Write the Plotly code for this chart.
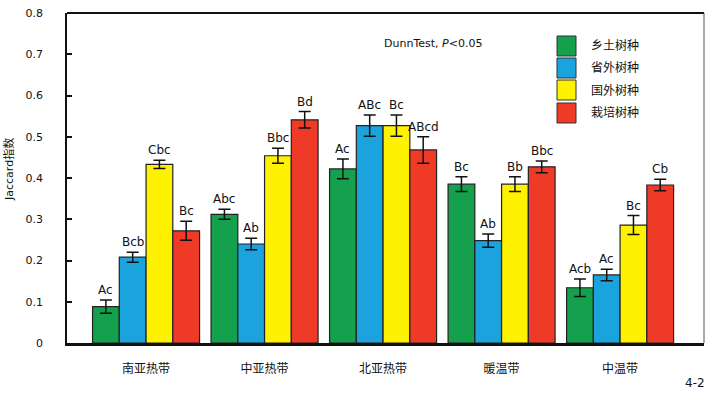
import plotly.graph_objects as go

categories = ["南亚热带", "中亚热带", "北亚热带", "暖温带", "中温带"]
series_names = ["乡土树种", "省外树种", "国外树种", "栽培树种"]
colors = ["#14a04c", "#1aa3dc", "#fff200", "#ee3a26"]

native = [0.088, 0.312, 0.422, 0.385, 0.134]
other_prov = [0.208, 0.240, 0.527, 0.248, 0.165]
foreign = [0.433, 0.454, 0.527, 0.385, 0.286]
cultivated = [0.272, 0.541, 0.468, 0.427, 0.383]

native_err = [0.016, 0.012, 0.024, 0.018, 0.021]
other_prov_err = [0.012, 0.014, 0.026, 0.016, 0.014]
foreign_err = [0.010, 0.018, 0.026, 0.018, 0.023]
cultivated_err = [0.023, 0.020, 0.032, 0.014, 0.014]

native_lbl = ["Ac", "Abc", "Ac", "Bc", "Acb"]
other_prov_lbl = ["Bcb", "Ab", "ABc", "Ab", "Ac"]
foreign_lbl = ["Cbc", "Bbc", "Bc", "Bb", "Bc"]
cultivated_lbl = ["Bc", "Bd", "ABcd", "Bbc", "Cb"]

y_ticks = [0, 0.1, 0.2, 0.3, 0.4, 0.5, 0.6, 0.7, 0.8]
y_tick_text = ["0", "0.1", "0.2", "0.3", "0.4", "0.5", "0.6", "0.7", "0.8"]

values = [native, other_prov, foreign, cultivated]
errors = [native_err, other_prov_err, foreign_err, cultivated_err]
labels = [native_lbl, other_prov_lbl, foreign_lbl, cultivated_lbl]

FONT = "DejaVu Sans, Noto Sans CJK SC"
bargap = 0.097
nser = len(series_names)
bw = (1 - bargap) / nser
xs = list(range(len(categories)))

fig = go.Figure()
for s in range(nser):
    fig.add_trace(go.Bar(
        x=xs, y=values[s], name=series_names[s],
        marker=dict(color=colors[s], line=dict(color="#222222", width=1.2)),
        error_y=dict(type="data", array=errors[s], color="#111111", thickness=1.5, width=6),
        showlegend=False, hoverinfo="skip",
    ))

annotations = []
for s in range(nser):
    off = (s - (nser - 1) / 2) * bw
    for i in xs:
        annotations.append(dict(
            x=i + off, y=values[s][i] + errors[s][i], xref="x", yref="y",
            text=labels[s][i], showarrow=False, yanchor="bottom", yshift=1,
            font=dict(family=FONT, size=12, color="#111111"),
        ))

# legend drawn manually
shapes = []
leg_x0, leg_x1 = 557, 576
leg_y = [46, 68, 90, 113]
W, H = 712, 397
ml, mr, mt, mb = 67, 8, 13, 54
pw, ph = W - ml - mr, H - mt - mb
def px(x):
    return (x - ml) / pw
def py(y):
    return 1 - (y - mt) / ph
for s in range(nser):
    shapes.append(dict(type="rect", xref="paper", yref="paper",
                       x0=px(leg_x0), x1=px(leg_x1), y0=py(leg_y[s] + 10), y1=py(leg_y[s] - 10),
                       fillcolor=colors[s], line=dict(color="#333333", width=1)))
    annotations.append(dict(x=px(589), y=py(leg_y[s]), xref="paper", yref="paper",
                            text=series_names[s], showarrow=False, xanchor="left", yanchor="middle",
                            font=dict(family=FONT, size=12, color="#111111")))

annotations.append(dict(x=px(382), y=py(43), xref="paper", yref="paper",
                        text="DunnTest, <i>P</i><0.05", showarrow=False, xanchor="left", yanchor="middle",
                        font=dict(family=FONT, size=11, color="#111111")))
annotations.append(dict(x=px(707), y=py(383), xref="paper", yref="paper",
                        text="4-2", showarrow=False, xanchor="right", yanchor="middle",
                        font=dict(family=FONT, size=12, color="#111111")))
annotations.append(dict(x=px(9), y=py(170), xref="paper", yref="paper",
                        text="Jaccard指数", showarrow=False, textangle=-90,
                        xanchor="center", yanchor="middle",
                        font=dict(family=FONT, size=11, color="#111111")))

# frame: top, right line
shapes.append(dict(type="line", xref="paper", yref="paper", x0=0, x1=1, y0=1, y1=1,
                   line=dict(color="#111111", width=2)))
shapes.append(dict(type="line", xref="paper", yref="paper", x0=1, x1=1, y0=0, y1=1,
                   line=dict(color="#555555", width=1)))

fig.update_layout(
    width=W, height=H,
    margin=dict(l=ml, r=mr, t=mt, b=mb, autoexpand=False),
    paper_bgcolor="white", plot_bgcolor="white",
    barmode="group", bargap=bargap, bargroupgap=0,
    font=dict(family=FONT, size=11, color="#111111"),
    xaxis=dict(
        tickmode="array", tickvals=xs, ticktext=categories,
        range=[-0.667, 4.708], showgrid=False, zeroline=False,
        showline=True, linecolor="#111111", linewidth=2.5,
        ticks="", ticklabelstandoff=13, automargin=False,
        tickfont=dict(family=FONT, size=12),
    ),
    yaxis=dict(
        range=[0, 0.8], tickmode="array", tickvals=y_ticks, ticktext=y_tick_text,
        showgrid=False, zeroline=False, automargin=False,
        showline=True, linecolor="#111111", linewidth=1.5,
        ticks="inside", ticklen=5, tickwidth=1.5, tickcolor="#111111",
        ticklabelstandoff=20,
        tickfont=dict(family=FONT, size=11),
    ),
    annotations=annotations, shapes=shapes,
)

fig.write_html("out.html", config={"displayModeBar": False},
               post_script="document.body.style.margin='0';")
